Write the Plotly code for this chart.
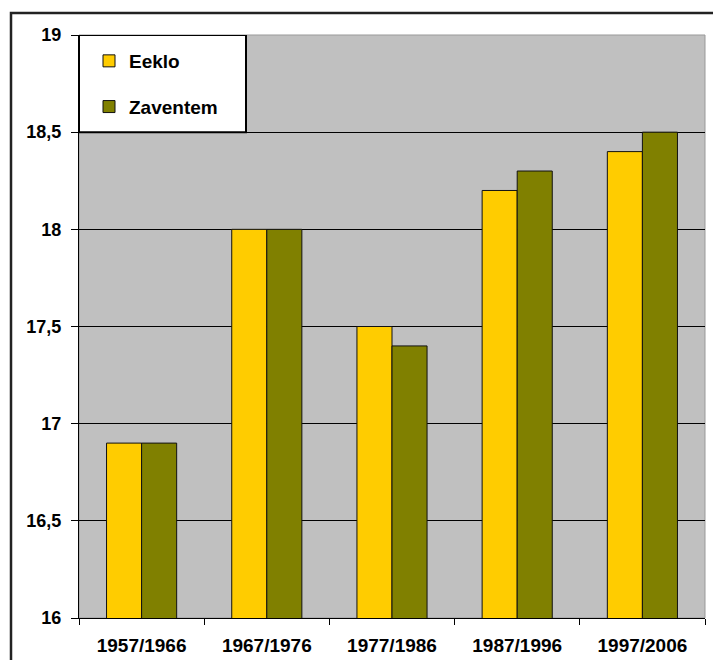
import plotly.graph_objects as go

categories = ["1957/1966", "1967/1976", "1977/1986", "1987/1996", "1997/2006"]
eeklo = [16.9, 18.0, 17.5, 18.2, 18.4]
zaventem = [16.9, 18.0, 17.4, 18.3, 18.5]
y_ticks = [16, 16.5, 17, 17.5, 18, 18.5, 19]

fig = go.Figure()
fig.add_trace(go.Bar(name="Eeklo", x=categories, y=eeklo,
                     marker=dict(color="#FFCC00", line=dict(color="#111111", width=1)),
                     legendgroup="a"))
fig.add_trace(go.Bar(name="Zaventem", x=categories, y=zaventem,
                     marker=dict(color="#808000", line=dict(color="#111111", width=1)),
                     legendgroup="b"))

# page body has an 8px margin; figure coordinates are offset by it
OFF = 8
W, H = 721 - OFF, 660 - OFF
L, T = 79 - OFF, 35 - OFF
pw, ph = 626, 583
R = W - L - pw
B = H - T - ph

def px(x):
    return (x - OFF - L) / pw

def py(y):
    return (T + ph - (y - OFF)) / ph

fig.update_layout(
    width=W, height=H,
    margin=dict(l=L, r=R, t=T, b=B, pad=0, autoexpand=False),
    paper_bgcolor="white",
    plot_bgcolor="#C0C0C0",
    separators=",.",
    barmode="group",
    bargap=0.44,
    bargroupgap=0,
    font=dict(family="Liberation Sans, Arial, sans-serif", color="black"),
    showlegend=True,
    legend=dict(
        x=px(89), y=py(42), xanchor="left", yanchor="top",
        bgcolor="rgba(0,0,0,0)", borderwidth=0,
        font=dict(size=19, family="Liberation Sans, Arial, sans-serif", weight="bold"),
        tracegroupgap=18,
    ),
    xaxis=dict(
        showline=True, linecolor="black", linewidth=1,
        ticks="outside", ticklen=6, tickcolor="black", tickson="boundaries",
        tickfont=dict(size=19, weight="bold"),
        ticklabelstandoff=10,
        showgrid=False, automargin=False,
    ),
    yaxis=dict(
        range=[16, 19], tickvals=y_ticks,
        showline=True, linecolor="black", linewidth=1,
        ticks="outside", ticklen=7, tickcolor="black",
        tickfont=dict(size=18, weight="bold"),
        ticklabelstandoff=6,
        showgrid=True, gridcolor="black", gridwidth=1,
        zeroline=False, automargin=False,
    ),
    shapes=[
        dict(type="rect", xref="paper", yref="paper", x0=0, x1=1, y0=0, y1=1,
             line=dict(color="#999999", width=1), layer="below"),
        dict(type="rect", xref="paper", yref="y", x0=0, x1=px(246), y0=18.5, y1=19,
             fillcolor="white", line=dict(color="black", width=2), layer="above"),
        dict(type="rect", xref="paper", yref="paper",
             x0=px(11), x1=px(740), y0=py(680), y1=py(13),
             line=dict(color="#222222", width=2.5), layer="above"),
    ],
)

fig.write_html("out.html")
